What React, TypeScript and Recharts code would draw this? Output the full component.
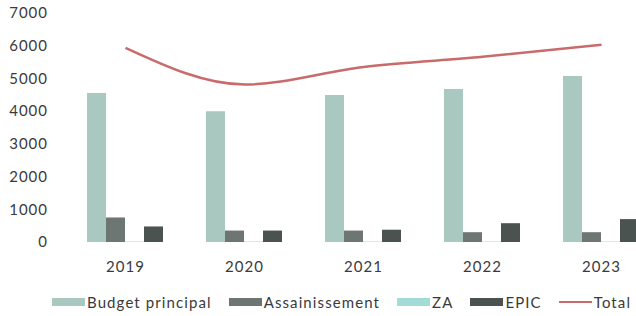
import React from 'react';
import { ComposedChart, Bar, Line, XAxis, YAxis } from 'recharts';

const years = ['2019', '2020', '2021', '2022', '2023'];
const budgetPrincipal = [4555, 4000, 4495, 4680, 5075];
const assainissement = [750, 350, 350, 300, 300];
const za = [15, 15, 15, 15, 15];
const epic = [475, 350, 375, 575, 700];
const total = [5935, 4815, 5350, 5660, 6030];
const yTicks = [0, 1000, 2000, 3000, 4000, 5000, 6000, 7000];

const data = years.map((year, i) => ({
  year,
  budget: budgetPrincipal[i],
  assain: assainissement[i],
  za: za[i],
  epic: epic[i],
  total: total[i],
}));

const FONT = 'Lato, "Open Sans", sans-serif';
const TEXT = '#3a3a3a';

const series = [
  { key: 'budget', name: 'Budget principal', color: '#a9c8c0' },
  { key: 'assain', name: 'Assainissement', color: '#6d7672' },
  { key: 'za', name: 'ZA', color: '#a3dcd7' },
  { key: 'epic', name: 'EPIC', color: '#4b5350' },
];
const lineColor = '#c96b6b';

const tickStyle = { fill: TEXT, fontSize: 15, fontFamily: FONT, letterSpacing: 1 };

export default function App() {
  return (
    <div style={{ position: 'absolute', left: 0, top: 0, width: 636, height: 316, overflow: 'hidden', background: '#fff' }}>
      <ComposedChart
        width={700}
        height={290}
        data={data}
        margin={{ top: 13, right: 39, left: 0, bottom: 0 }}
        barGap={0}
        barCategoryGap={21}
      >
        <XAxis
          dataKey="year"
          axisLine={false}
          tickLine={false}
          tickSize={0}
          tickMargin={19}
          tick={tickStyle}
          height={48}
        />
        <YAxis
          domain={[0, 7000]}
          ticks={yTicks}
          axisLine={false}
          tickLine={false}
          tickSize={0}
          tickMargin={18}
          width={66}
          tick={tickStyle}
        />
        {series.map((s) => (
          <Bar key={s.key} dataKey={s.key} name={s.name} fill={s.color} isAnimationActive={false} />
        ))}
        <Line
          type="monotone"
          dataKey="total"
          name="Total"
          stroke={lineColor}
          strokeWidth={2.5}
          dot={false}
          isAnimationActive={false}
        />
      </ComposedChart>
      <div
        style={{
          position: 'absolute',
          top: 293,
          left: 52,
          display: 'flex',
          alignItems: 'center',
          fontFamily: FONT,
          fontSize: 15,
          letterSpacing: 1.1,
          color: TEXT,
          whiteSpace: 'nowrap',
        }}
      >
        {series.map((s) => (
          <div key={s.key} style={{ display: 'flex', alignItems: 'center', marginRight: 17 }}>
            <span style={{ display: 'block', width: 33, height: 8, background: s.color, marginRight: 2 }}></span>
            <span>{s.name}</span>
          </div>
        ))}
        <div style={{ display: 'flex', alignItems: 'center' }}>
          <span style={{ display: 'block', width: 33, height: 2.5, background: lineColor, marginRight: 2 }}></span>
          <span>Total</span>
        </div>
      </div>
    </div>
  );
}
